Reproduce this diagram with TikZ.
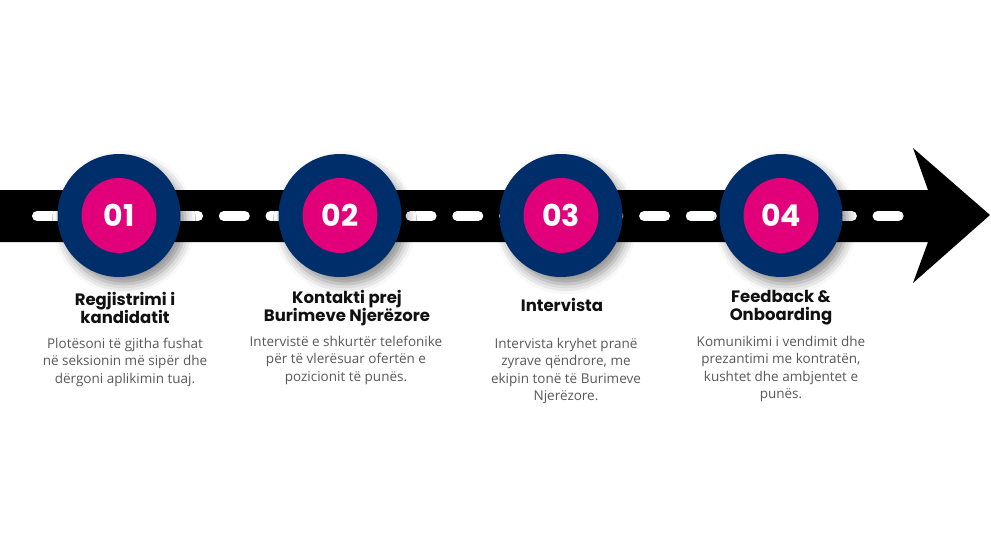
\documentclass[tikz,border=0pt]{standalone}
\usepackage{fontspec}
\setmainfont{Open Sans}
\newfontfamily\titlefont{Poppins}[UprightFont=* Bold]
\newfontfamily\numfont{Poppins}[UprightFont=* Bold]
\usetikzlibrary{shadows.blur}
\definecolor{navy}{RGB}{0,46,106}
\definecolor{pinkc}{RGB}{226,0,122}
\definecolor{bodygray}{RGB}{88,88,88}
\definecolor{titleblack}{RGB}{17,17,17}
\tikzset{
  outerc/.style={circle, fill=navy, minimum size=123pt, inner sep=0pt,
    blur shadow={shadow xshift=5pt, shadow yshift=-7pt, shadow blur radius=10pt, shadow opacity=45}},
  innerc/.style={circle, fill=pinkc, minimum size=75pt, inner sep=0pt, text=white,
    font=\numfont\fontsize{30}{30}\selectfont},
  dashline/.style={white, line width=10pt, line cap=round},
  titletxt/.style={anchor=base, inner sep=0pt, text=titleblack,
    font=\titlefont\fontsize{16.5}{17}\selectfont},
  bodytxt/.style={anchor=base, inner sep=0pt, text=bodygray,
    font=\fontsize{13.5}{17.5}\selectfont},
}
\newcommand{\colbox}[1]{{\setlength{\tabcolsep}{0pt}\begin{tabular}[t]{c}#1\end{tabular}}}
\begin{document}
\begin{tikzpicture}[x=1pt,y=-1pt]
\useasboundingbox (0,0) rectangle (991,557);
% road with arrow
\fill[black] (0,190) -- (928,190) -- (913,148) -- (990,215) -- (913,283) -- (928,242) -- (0,242) -- cycle;
% dashes
\foreach \k in {0,...,18} {
  \draw[dashline] ({37+46.7*\k},216) -- ({58+46.7*\k},216);
}
% circles
\foreach \i/\x/\n in {1/119/01,2/340/02,3/561/03,4/781/04} {
  \node[outerc] (c\i) at (\x,215.5) {};
  \node[innerc] (n\i) at (c\i.center) {\n};
}
% titles
\node[titletxt] (t1) at (125,305) {\colbox{Regjistrimi i\\kandidatit}};
\node[titletxt] (t2) at (347,303.5) {\colbox{Kontakti prej\\Burimeve Njerëzore}};
\node[titletxt] (t3) at (562,311) {\colbox{Intervista}};
\node[titletxt] (t4) at (781,302) {\colbox{Feedback \&\\Onboarding}};
% body texts
\node[bodytxt] (b1) at (125,348) {\colbox{Plotësoni të gjitha fushat\\në seksionin më sipër dhe\\dërgoni aplikimin tuaj.}};
\node[bodytxt] (b2) at (346,346) {\colbox{Intervistë e shkurtër telefonike\\për të vlerësuar ofertën e\\pozicionit të punës.}};
\node[bodytxt] (b3) at (566,348) {\colbox{Intervista kryhet pranë\\zyrave qëndrore, me\\ekipin tonë të Burimeve\\Njerëzore.}};
\node[bodytxt] (b4) at (781,346) {\colbox{Komunikimi i vendimit dhe\\prezantimi me kontratën,\\kushtet dhe ambjentet e\\punës.}};
\end{tikzpicture}
\end{document}
